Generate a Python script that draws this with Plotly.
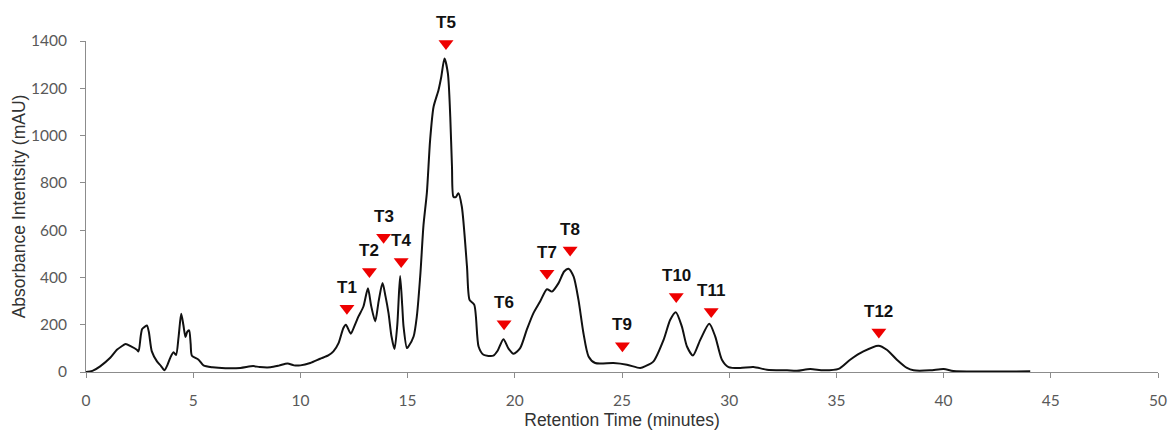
import plotly.graph_objects as go

# Chromatogram trace: retention time (min) vs absorbance (mAU)
retention_time = [
    0.0, 0.3, 0.66, 1.13, 1.44, 1.65, 1.85, 2.1, 2.37, 2.45, 2.55, 2.62, 2.75, 2.84, 2.93,
    3.07, 3.31, 3.5, 3.66, 3.8, 3.93, 4.08, 4.2, 4.32, 4.44, 4.54, 4.64, 4.72, 4.81, 4.88,
    4.94, 5.25, 5.48, 5.9, 6.5, 7.2, 7.8, 8.1, 8.6, 9.0, 9.4, 9.7, 10.0, 10.46, 10.92,
    11.3, 11.54, 11.78, 12.0, 12.12, 12.35, 12.5, 12.71, 12.94, 13.15, 13.3, 13.49, 13.65,
    13.83, 13.97, 14.11, 14.25, 14.39, 14.52, 14.65, 14.75, 14.81, 14.97, 15.04, 15.28,
    15.43, 15.6, 15.74, 15.9, 16.05, 16.21, 16.44, 16.57, 16.72, 16.88, 16.99, 17.07,
    17.14, 17.25, 17.37, 17.53, 17.77, 17.89, 18.11, 18.31, 18.54, 19.0, 19.2, 19.47,
    19.7, 19.94, 20.25, 20.56, 20.87, 21.18, 21.5, 21.73, 22.04, 22.3, 22.5, 22.74,
    22.97, 23.2, 23.44, 23.75, 24.6, 25.23, 25.85, 26.1, 26.47, 26.94, 27.25, 27.51,
    27.79, 28.03, 28.31, 28.65, 29.07, 29.35, 29.66, 29.97, 30.51, 31.13, 31.76, 32.7,
    33.16, 33.78, 34.4, 35.1, 35.64, 36.26, 36.96, 37.35, 37.82, 38.29, 38.6, 39.37,
    40.0, 40.46, 41.7, 44.04,
]
absorbance = [
    0, 5, 24, 60, 94, 108, 118, 108, 94, 87, 150, 182, 192, 197, 170,
    87, 45, 25, 7, 30, 60, 84, 72, 150, 246, 200, 148, 170, 176, 120,
    69, 52, 28, 20, 16, 17, 25, 21, 20, 27, 36, 28, 28, 38, 56,
    70, 87, 122, 185, 200, 162, 190, 235, 277, 354, 280, 214, 300,
    376, 320, 249, 150, 97, 200, 406, 280, 193, 101, 108, 150,
    235, 420, 620, 760, 981, 1121, 1192, 1248, 1326, 1262, 1079, 868,
    741, 740, 756, 699, 446, 305, 284, 108, 73, 69, 90, 139,
    100, 77, 101, 179, 249, 298, 350, 340, 376, 425, 437, 404,
    305, 165, 66, 38, 38, 31, 17, 25, 45, 136, 221, 253,
    193, 108, 70, 136, 204, 150, 52, 21, 17, 21, 10, 7,
    5, 13, 7, 13, 52, 87, 111, 94, 52, 17, 7, 7,
    13, 4, 2, 3,
]

# Peak labels and their marker positions
peak_names = ["T1", "T2", "T3", "T4", "T5", "T6", "T7", "T8", "T9", "T10", "T11", "T12"]
peak_time = [12.17, 13.22, 13.88, 14.7, 16.79, 19.5, 21.5, 22.58, 25.02, 27.53, 29.16, 36.98]
peak_marker = [270, 425, 570, 467, 1389, 204, 418, 516, 111, 319, 256, 169]

x_ticks = [0, 5, 10, 15, 20, 25, 30, 35, 40, 45, 50]
y_ticks = [0, 200, 400, 600, 800, 1000, 1200, 1400]

fig = go.Figure()

fig.add_trace(go.Scatter(
    x=retention_time, y=absorbance, mode="lines",
    line=dict(color="#111111", width=2, shape="spline", smoothing=0.7),
    hoverinfo="x+y", showlegend=False,
))

fig.add_trace(go.Scatter(
    x=peak_time, y=peak_marker, mode="markers",
    marker=dict(symbol="triangle-down", size=13, color="#ee0000", line=dict(width=0)),
    cliponaxis=False, showlegend=False,
))

for name, t, m in zip(peak_names, peak_time, peak_marker):
    fig.add_annotation(
        x=t, y=m, text=name, showarrow=False, yshift=21,
        font=dict(family="Liberation Sans, Arial", size=17, color="#111111", weight="bold"),
    )

axis_font = dict(family="Lato, Liberation Sans", size=15.5, color="#595959")
title_font = dict(family="Liberation Sans, Arial", size=17.5, color="#333333")

fig.update_xaxes(
    range=[0, 50], tickvals=x_ticks, ticktext=[str(v) for v in x_ticks],
    showline=True, linecolor="#8c8c8c", linewidth=1, showgrid=False, zeroline=False,
    ticks="outside", ticklen=5, tickcolor="#8c8c8c", tickfont=axis_font,
    ticklabelstandoff=9, automargin=False,
    title=dict(text="Retention Time (minutes)", font=title_font, standoff=13),
)
fig.update_yaxes(
    range=[0, 1400], tickvals=y_ticks, ticktext=[str(v) for v in y_ticks],
    showline=True, linecolor="#8c8c8c", linewidth=1, showgrid=False, zeroline=False,
    ticks="outside", ticklen=5, tickcolor="#8c8c8c", tickfont=axis_font,
    ticklabelstandoff=10, automargin=False,
    title=dict(text="Absorbance Intentsity (mAU)", font=title_font, standoff=0),
)

fig.update_layout(
    width=1170, height=430,
    margin=dict(l=86, r=12, t=41, b=58),
    paper_bgcolor="white", plot_bgcolor="white",
    showlegend=False,
)

fig.write_html("out.html")
